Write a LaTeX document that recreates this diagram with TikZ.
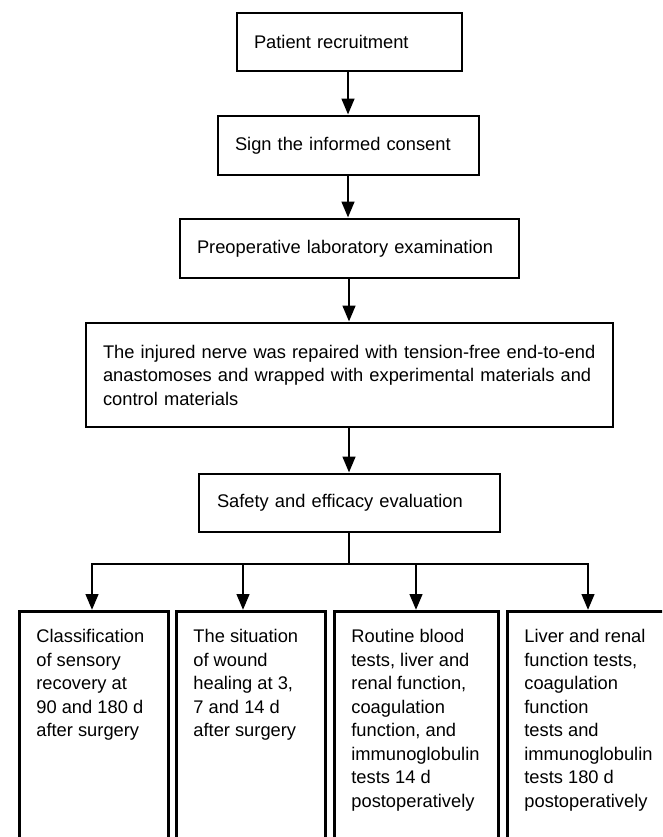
\documentclass[tikz,border=0pt]{standalone}
\usepackage{fontspec}
\setmainfont{Liberation Sans}
\usetikzlibrary{arrows.meta}
\tikzset{
  box/.style={draw, line width=2.8pt, rectangle, inner xsep=17pt, inner ysep=0pt, align=left, font=\fontsize{18.3}{23.5}\selectfont},
  arr/.style={line width=2.8pt, -{Triangle[length=16pt,width=12.5pt]}},
  ln/.style={line width=2.8pt},
}
\begin{document}
\begin{tikzpicture}[x=1pt,y=-1pt]
\useasboundingbox (0,0) rectangle (662,837);
\clip (0,0) rectangle (662,837);
\fill[white] (0,0) rectangle (662,837);
\node[box, minimum width=225pt, minimum height=58pt, text width=191pt] (b1) at (349.5,42) {Patient recruitment};
\node[box, minimum width=261pt, minimum height=59pt, text width=227pt] (b2) at (348.5,145.5) {Sign the informed consent};
\node[box, minimum width=339pt, minimum height=59pt, text width=305pt] (b3) at (349.5,248.5) {Preoperative laboratory examination};
\node[box, minimum width=527pt, minimum height=104pt, text width=493pt] (b4) at (349.5,375) {The injured nerve was repaired with tension-free end-to-end\\anastomoses and wrapped with experimental materials and\\control materials};
\node[box, minimum width=301pt, minimum height=58pt, text width=265pt] (b5) at (349.5,503) {Safety and efficacy evaluation};
\node[box, anchor=north west, minimum width=149pt, inner ysep=18pt] (bA) at (18,610) {\parbox[t][230pt][t]{115pt}{Classification\\of sensory\\recovery at\\90 and 180 d\\after surgery}};
\node[box, anchor=north west, minimum width=149pt, inner ysep=18pt] (bB) at (175,610) {\parbox[t][230pt][t]{115pt}{The situation\\of wound\\healing at 3,\\7 and 14 d\\after surgery}};
\node[box, anchor=north west, minimum width=164pt, inner ysep=18pt] (bC) at (333,610) {\parbox[t][230pt][t]{130pt}{Routine blood\\tests, liver and\\renal function,\\coagulation\\function, and\\immunoglobulin\\tests 14 d\\postoperatively}};
\node[box, anchor=north west, minimum width=164pt, inner ysep=18pt] (bD) at (506,610) {\parbox[t][230pt][t]{130pt}{Liver and renal\\function tests,\\coagulation\\function\\tests and\\immunoglobulin\\tests 180 d\\postoperatively}};
\draw[arr] (b1.south -| 348,0) -- (b2.north -| 348,0);
\draw[arr] (b2.south -| 348,0) -- (b3.north -| 348,0);
\draw[arr] (b3.south -| 349,0) -- (b4.north -| 349,0);
\draw[arr] (b4.south -| 349,0) -- (b5.north -| 349,0);
\coordinate (j0) at (349,564);
\coordinate (jA) at (92,564);
\coordinate (jB) at (243,564);
\coordinate (jC) at (416,564);
\coordinate (jD) at (588,564);
\draw[ln] (b5.south -| j0) -- (j0);
\draw[ln, line cap=rect] (jA) -- (jD);
\draw[arr] (jA) -- (jA |- bA.north);
\draw[arr] (jB) -- (jB |- bB.north);
\draw[arr] (jC) -- (jC |- bC.north);
\draw[arr] (jD) -- (jD |- bD.north);
\end{tikzpicture}
\end{document}
